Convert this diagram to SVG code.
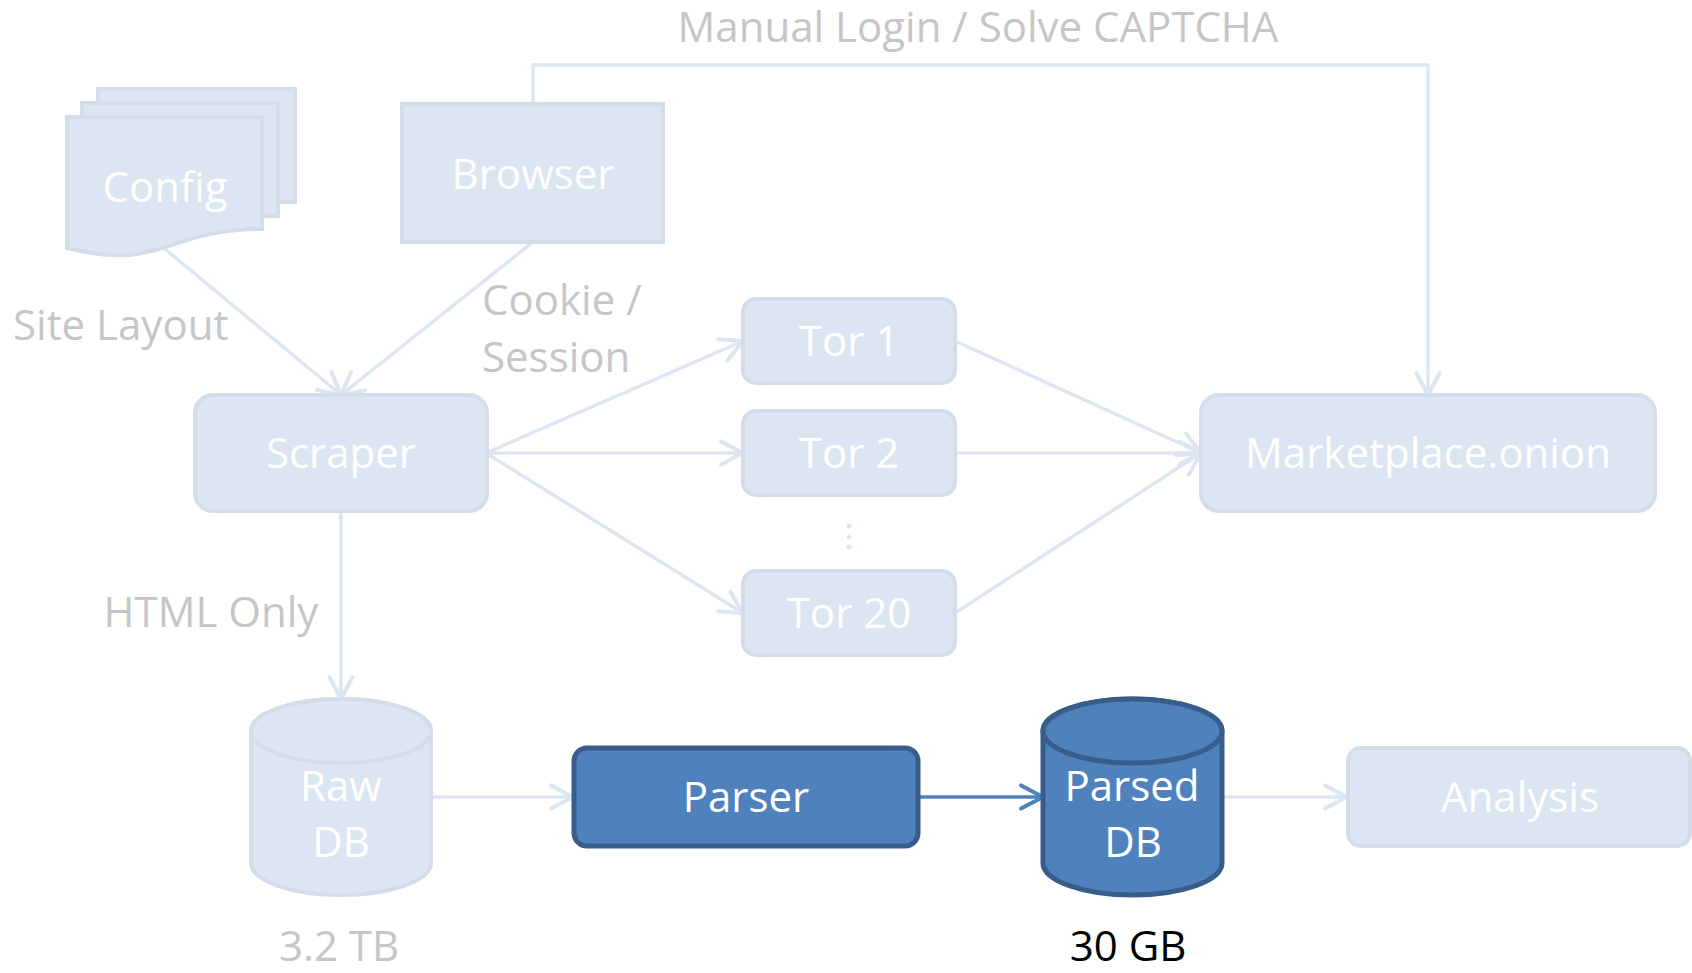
<svg xmlns="http://www.w3.org/2000/svg" width="1692" height="973" viewBox="0 0 1692 973">
<style>
text{font-family:"Open Sans","Noto Sans","Liberation Sans",sans-serif;font-size:42px}
.lbl{fill:#FFFFFF;text-anchor:middle}
.gray{fill:#C6C6C6}
.dark{fill:#000000;text-anchor:middle}
.node{fill:#DCE6F2;stroke:#D3DCE8;stroke-width:4}
.hi{fill:#4F81BD;stroke:#385D8A;stroke-width:5}
.conn{fill:none;stroke:#DCE6F2;stroke-width:3.5;marker-end:url(#arrL)}
.connB{fill:none;stroke:#4F81BD;stroke-width:3.5;marker-end:url(#arrB)}
</style>
<defs>
<marker id="arrL" markerUnits="userSpaceOnUse" markerWidth="30" markerHeight="30" viewBox="-22 -13 26 26" refX="0" refY="0" orient="auto">
<path d="M-19,-10 L0,0 L-19,10" fill="none" stroke="#DCE6F2" stroke-width="3.5" stroke-linecap="round" stroke-linejoin="round"/>
</marker>
<marker id="arrB" markerUnits="userSpaceOnUse" markerWidth="30" markerHeight="30" viewBox="-22 -13 26 26" refX="0" refY="0" orient="auto">
<path d="M-19,-10 L0,0 L-19,10" fill="none" stroke="#4F81BD" stroke-width="3.5" stroke-linecap="round" stroke-linejoin="round"/>
</marker>
</defs>
<rect width="1692" height="973" fill="#FFFFFF"/>

<g id="connectors">
<path class="conn" d="M165,249 L341,395"/>
<path class="conn" d="M533,242 L341,395"/>
<path class="conn" d="M533,104 V65 H1428 V395"/>
<path class="conn" d="M486,453 L743,341"/>
<path class="conn" d="M486,453 L743,453"/>
<path class="conn" d="M486,453 L743,613"/>
<path class="conn" d="M955,341 L1201,453"/>
<path class="conn" d="M955,453 L1201,453"/>
<path class="conn" d="M955,613 L1201,453"/>
<path class="conn" d="M341,511 L341,699"/>
<path class="conn" d="M431,797 L573,797"/>
<path class="connB" d="M919,797 L1043,797"/>
<path class="conn" d="M1222,797 L1347,797"/>
</g>

<g id="edge-labels">
<text class="gray" x="978" y="42" text-anchor="middle">Manual Login / Solve CAPTCHA</text>
<text class="gray" x="13" y="340">Site Layout</text>
<text class="gray" x="482" y="315">Cookie /</text>
<text class="gray" x="482" y="372">Session</text>
<text class="gray" x="211" y="627" text-anchor="middle">HTML Only</text>
</g>

<g id="config">
<rect class="node" x="98" y="89" width="197" height="113"/>
<rect class="node" x="82" y="103" width="196" height="113"/>
<path class="node" d="M67,117 H262 V229 C164.5,229 164.5,272 67,248 Z"/>
<text class="lbl" x="165" y="202">Config</text>
</g>

<g id="browser">
<rect class="node" x="402" y="104" width="261" height="138"/>
<text class="lbl" x="533" y="189">Browser</text>
</g>

<g id="scraper">
<rect class="node" x="195" y="395" width="292" height="116" rx="18"/>
<text class="lbl" x="341" y="468">Scraper</text>
</g>

<g id="tor1">
<rect class="node" x="743" y="299" width="212" height="84" rx="13"/>
<text class="lbl" x="849" y="356">Tor 1</text>
</g>

<g id="tor2">
<rect class="node" x="743" y="411" width="212" height="84" rx="13"/>
<text class="lbl" x="849" y="468">Tor 2</text>
</g>

<g id="tor-ellipsis">
<circle cx="849" cy="526" r="2.5" fill="#DCE6F2"/>
<circle cx="849" cy="537" r="2.5" fill="#DCE6F2"/>
<circle cx="849" cy="547" r="2.5" fill="#DCE6F2"/>
</g>

<g id="tor20">
<rect class="node" x="743" y="571" width="212" height="84" rx="13"/>
<text class="lbl" x="849" y="628">Tor 20</text>
</g>

<g id="marketplace">
<rect class="node" x="1201" y="395" width="454" height="116" rx="18"/>
<text class="lbl" x="1428" y="468">Marketplace.onion</text>
</g>

<g id="rawdb">
<path class="node" d="M251,731 A90,32 0 0 1 431,731 V863 A90,32 0 0 1 251,863 Z"/>
<ellipse class="node" cx="341" cy="731" rx="90" ry="32"/>
<text class="lbl" x="341" y="801">Raw</text>
<text class="lbl" x="341" y="857">DB</text>
<text class="gray" x="339" y="961" text-anchor="middle">3.2 TB</text>
</g>

<g id="parser">
<rect class="hi" x="574" y="748" width="344" height="98" rx="13"/>
<text class="lbl" x="746" y="812">Parser</text>
</g>

<g id="parseddb">
<path class="hi" d="M1043,731 A89.5,32 0 0 1 1222,731 V863 A89.5,32 0 0 1 1043,863 Z"/>
<ellipse class="hi" cx="1132.5" cy="731" rx="89.5" ry="32"/>
<text class="lbl" x="1132" y="801">Parsed</text>
<text class="lbl" x="1133" y="857">DB</text>
<text class="dark" x="1128" y="961">30 GB</text>
</g>

<g id="analysis">
<rect class="node" x="1348" y="748" width="342" height="98" rx="13"/>
<text class="lbl" x="1520" y="812">Analysis</text>
</g>
</svg>
